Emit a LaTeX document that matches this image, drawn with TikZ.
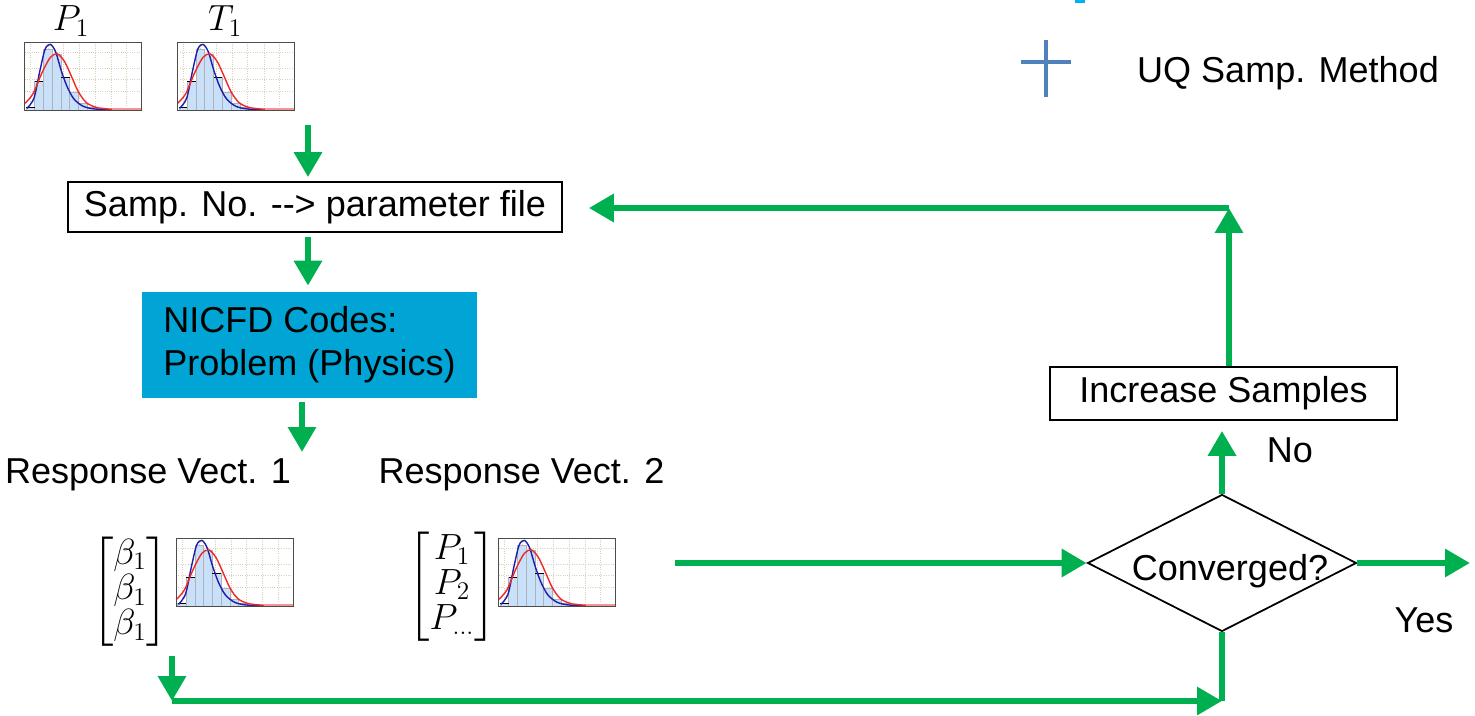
\documentclass[tikz,border=0pt]{standalone}
\usepackage{amsmath}
\usepackage{fontspec}
\setmainfont{Liberation Sans}
\usetikzlibrary{shapes.geometric,arrows.meta,positioning,calc}
\definecolor{flowGreen}{RGB}{0,176,80}
\definecolor{nicfdBlue}{RGB}{0,165,214}
\definecolor{plusBlue}{RGB}{79,129,189}
\definecolor{topCyan}{RGB}{0,176,240}
\definecolor{barFill}{RGB}{200,224,250}
\definecolor{fitBlue}{RGB}{30,30,170}
\definecolor{fitRed}{RGB}{240,40,40}
\definecolor{gridTan}{RGB}{215,210,185}
% histogram drawn inside the box of node #1
\newcommand{\histat}[1]{%
  \begin{scope}[shift={(#1.south west)}, x=2.34cm, y=1.36cm]
  \foreach \gx in {0.05,0.2,0.33,0.47,0.6,0.74,0.87}
    \draw[gridTan, densely dotted, line width=0.3pt] (\gx,0) -- (\gx,1);
  \foreach \gy in {0.28,0.45,0.62,0.85}
    \draw[gridTan, densely dotted, line width=0.3pt] (0,\gy) -- (1,\gy);
  \foreach \bx/\bh in {0.014/0.04, 0.085/0.43, 0.16/0.89, 0.235/0.82, 0.31/0.48,
                       0.385/0.26, 0.46/0.11, 0.535/0.05, 0.61/0.02}
    \draw[fill=barFill, draw=gray!60, line width=0.4pt] (\bx,0) rectangle ++(0.075,\bh);
  \draw[black, line width=0.6pt] (0.014,0.04) -- (0.085,0.04)
    (0.085,0.43) -- (0.16,0.43) (0.31,0.48) -- (0.385,0.48);
  \draw[fitBlue, line width=0.8pt] plot[smooth] coordinates {(0.02,0.03) (0.08,0.18)
    (0.13,0.58) (0.175,0.9) (0.22,0.97) (0.265,0.86) (0.31,0.6) (0.36,0.36)
    (0.42,0.17) (0.5,0.06) (0.6,0.02) (0.75,0.01)};
  \draw[fitRed, line width=0.8pt] plot[smooth] coordinates {(0.0,0.1) (0.07,0.24)
    (0.15,0.56) (0.22,0.78) (0.28,0.83) (0.34,0.72) (0.4,0.5) (0.46,0.27)
    (0.53,0.11) (0.62,0.04) (0.75,0.015)};
  \draw[fitRed!50, line width=1.2pt] (0.75,0.012) -- (1,0.012);
  \draw[black!70, line width=0.6pt] (0,0) rectangle (1,1);
  \end{scope}}
\tikzset{
    procbox/.style={rectangle, draw=black, line width=1pt, inner sep=0pt, align=center},
    codebox/.style={rectangle, fill=nicfdBlue, inner sep=0pt, align=left},
    decision/.style={diamond, draw=black, line width=1pt, inner sep=0pt},
    histbox/.style={rectangle, inner sep=0pt, minimum width=2.34cm, minimum height=1.36cm},
    flow/.style={-{Triangle[length=0.5cm,width=0.54cm]}, line width=3.6pt, flowGreen},
    flowline/.style={line width=3.6pt, flowGreen},
}
\renewcommand{\arraystretch}{0.78}

\begin{document}
\begin{tikzpicture}[x=0.02cm, y=-0.02cm, font=\fontsize{20.5}{24.5}\selectfont]
\useasboundingbox (0,0) rectangle (1475,716);

% Input distributions
\node[histbox] (histP) at (83.5,76) {};
\node[histbox, right=0.7cm of histP] (histT) {};
\node[inner sep=0pt, above=0.1cm of histP, xshift=-0.25cm] (labP) {$P_1$};
\node[inner sep=0pt, above=0.1cm of histT, xshift=-0.22cm] (labT) {$T_1$};
\histat{histP}
\histat{histT}

% Sampling and solver
\node[procbox, minimum width=9.88cm, minimum height=1cm] (samp) at (315,207)
    {Samp. No. -{}-{}> parameter file};
\node[codebox, minimum width=6.7cm, minimum height=2.12cm] (nicfd) at (309.5,345)
    {NICFD Codes:\\Problem (Physics)};

% Responses
\node[anchor=base] (rv1) at (148,483) {Response Vect. 1};
\node[anchor=base] (rv2) at (521.5,483) {Response Vect. 2};
\node[inner sep=0pt] (vec1) at (130,592)
    {$\begin{bmatrix}\beta_1\\\beta_1\\\beta_1\end{bmatrix}$};
\node[inner sep=0pt] (vec2) at (452,587)
    {$\begin{bmatrix}P_1\\P_2\\P_{\dots}\end{bmatrix}$};
\node[histbox] (histB) at (235,572) {};
\node[histbox] (histR) at (557.5,572) {};
\histat{histB}
\histat{histR}

% Convergence check
\node[decision, minimum width=5.38cm, minimum height=2.74cm] (conv) at (1222,563) {};
\node at ([xshift=0.16cm, yshift=-0.16cm]conv.center) (convtxt) {Converged?};
\node[procbox, minimum width=6.94cm, minimum height=1.06cm] (inc) at (1223.5,393.5)
    {Increase Samples};
\node[anchor=base] (no) at (1290,462) {No};
\node[anchor=base] (yes) at (1424,632) {Yes};

% Legend
\draw[plusBlue, line width=2.6pt] (1021,62) -- (1071,62) (1046,40) -- (1046,97);
\node[anchor=base] (uq) at (1288,83) {UQ Samp. Method};
\fill[topCyan] (1075,0) rectangle (1085,3);

% Flow
\coordinate (feed) at (308,125);
\coordinate (solve) at (302,452);
\coordinate (vecout) at (675,563);
\coordinate (yesout) at (1470,563);
\coordinate (loop) at (1229,208);
\coordinate (drop) at (172,656);
\coordinate (base) at (172,701);

\draw[flow, shorten >=0.08cm] (feed) -- (feed |- samp.north);
\draw[flow, shorten <=0.08cm, shorten >=0.12cm] (feed |- samp.south) -- (feed |- nicfd.north);
\draw[flow, shorten <=0.08cm] (solve |- nicfd.south) -- (solve);
\draw[flow] (vecout) -- (conv.west);
\draw[flow] (conv.east) -- (yesout);
\draw[flow, shorten >=0.2cm] (conv.north) -- (conv.north |- inc.south);
\draw[flow] (loop |- inc.north) -- (loop);
\draw[flow, shorten >=0.52cm] (loop) -- (loop -| samp.east);
\draw[flow] (drop) -- (base);
\draw[flow] (base) -- (base -| conv.south);
\draw[flowline] (conv.south) -- (conv.south |- base);

\end{tikzpicture}
\end{document}
